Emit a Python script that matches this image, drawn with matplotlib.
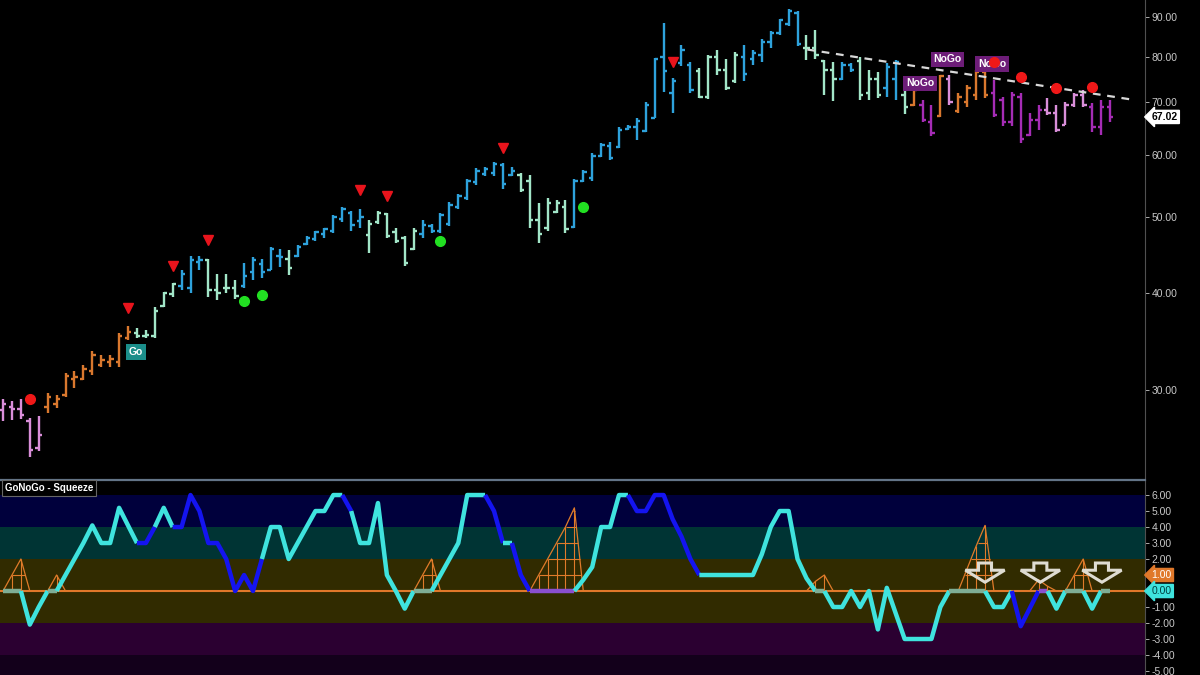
import numpy as np
import matplotlib.pyplot as plt
import matplotlib.transforms as mtransforms
from matplotlib.patches import Polygon

plt.rcParams['font.family'] = ['Liberation Sans', 'DejaVu Sans']

# weekly OHLC bars
opens = [
    28.3, 28.6, 28.4, 27.4, 25.3, 28.6, 28.8, 29.6, 31.0, 31.0,
    31.8, 32.3, 32.6, 32.6, 35.0, 35.5, 35.2, 35.2, 38.5, 39.8,
    40.8, 40.5, 43.8, 44.0, 40.3, 40.5, 40.5, 40.8, 42.5, 43.5,
    42.7, 44.5, 44.2, 44.6, 46.2, 46.8, 47.5, 48.0, 49.6, 50.6,
    49.4, 47.4, 49.2, 50.4, 47.8, 47.0, 45.5, 47.5, 48.6, 47.9,
    49.0, 51.5, 52.8, 55.4, 56.6, 56.8, 58.2, 56.5, 56.5, 55.5,
    49.5, 48.3, 50.7, 51.5, 48.5, 55.5, 56.0, 59.7, 61.5, 61.3,
    64.6, 65.0, 64.3, 66.9, 80.0, 72.0, 78.5, 78.0, 76.6, 71.0,
    80.0, 77.0, 74.5, 80.0, 79.5, 80.5, 83.5, 85.8, 88.0, 91.0,
    82.0, 82.0, 79.0, 77.0, 75.0, 78.0, 79.0, 72.0, 75.0, 73.0,
    75.0, 71.5, 69.4, 69.5, 66.0, 67.2, 75.0, 68.2, 70.0, 71.5,
    76.5, 72.0, 70.5, 66.0, 71.0, 63.5, 66.5, 68.5, 67.8, 65.5,
    69.5, 71.4, 69.0, 65.0, 69.0,
]
highs = [
    29.3, 29.1, 29.3, 27.7, 27.8, 29.8, 29.6, 31.6, 31.8, 32.3,
    33.7, 33.3, 33.3, 35.5, 36.3, 36.0, 35.8, 38.3, 40.1, 41.1,
    42.8, 44.6, 44.6, 44.2, 42.3, 42.3, 41.5, 43.6, 44.4, 44.2,
    45.7, 45.5, 45.3, 46.0, 47.3, 48.0, 48.4, 50.2, 51.4, 50.9,
    51.2, 49.5, 50.9, 50.5, 48.3, 47.3, 48.3, 49.5, 49.0, 50.5,
    52.2, 53.5, 55.9, 57.6, 57.8, 58.7, 58.5, 57.8, 56.8, 56.5,
    52.0, 52.8, 52.5, 52.5, 55.9, 57.3, 60.3, 62.1, 62.3, 65.0,
    65.4, 66.8, 70.0, 79.7, 88.2, 75.2, 82.8, 78.7, 77.4, 80.4,
    81.5, 79.5, 81.0, 82.8, 81.5, 84.2, 86.3, 89.5, 92.0, 91.6,
    85.2, 86.5, 79.2, 78.7, 78.7, 78.5, 80.0, 76.9, 76.5, 78.5,
    79.2, 72.5, 73.6, 70.4, 69.4, 75.8, 75.8, 71.8, 73.6, 76.9,
    77.6, 74.7, 71.0, 72.1, 71.8, 67.8, 69.4, 70.8, 69.4, 70.0,
    71.8, 72.5, 69.8, 70.4, 70.4,
]
lows = [
    27.4, 27.5, 27.6, 24.7, 25.1, 28.1, 28.5, 29.4, 30.2, 30.9,
    31.4, 32.1, 32.1, 32.1, 34.8, 35.0, 35.0, 35.0, 38.3, 39.5,
    40.3, 39.9, 42.7, 39.5, 39.1, 39.9, 39.3, 40.6, 41.5, 41.8,
    42.7, 43.1, 42.1, 44.4, 46.0, 46.6, 47.0, 47.7, 49.2, 48.0,
    48.3, 44.9, 49.0, 47.0, 46.3, 43.3, 45.3, 47.0, 47.6, 47.7,
    48.7, 51.2, 52.5, 54.8, 56.3, 56.3, 54.3, 56.3, 53.7, 48.3,
    46.3, 48.0, 50.5, 47.6, 48.4, 55.3, 55.6, 59.5, 59.0, 61.1,
    64.5, 62.6, 64.1, 66.8, 72.1, 67.8, 77.8, 71.8, 70.8, 70.6,
    75.8, 72.5, 74.0, 74.4, 78.0, 78.8, 82.0, 85.2, 87.5, 82.5,
    79.2, 79.4, 71.4, 70.2, 74.7, 76.5, 70.4, 70.4, 70.8, 71.0,
    70.4, 67.6, 69.2, 66.0, 63.3, 67.0, 69.4, 67.8, 69.0, 70.4,
    70.8, 67.0, 65.2, 65.2, 62.0, 63.3, 64.5, 67.4, 64.1, 65.4,
    69.0, 69.0, 64.1, 63.5, 66.0,
]
closes = [
    28.8, 28.4, 27.9, 25.2, 26.3, 29.4, 29.3, 31.3, 31.2, 32.0,
    33.3, 32.8, 32.9, 35.2, 35.6, 35.2, 35.3, 37.9, 39.9, 41.0,
    42.3, 44.0, 44.0, 40.3, 40.0, 40.5, 39.6, 42.0, 44.0, 42.5,
    45.4, 44.4, 43.0, 45.8, 47.0, 47.8, 48.2, 49.9, 51.2, 48.8,
    50.0, 49.0, 50.6, 47.2, 46.6, 43.6, 48.0, 48.8, 48.0, 50.2,
    51.8, 53.2, 55.6, 57.2, 57.5, 58.4, 55.0, 57.2, 54.0, 49.5,
    47.5, 52.0, 52.0, 48.2, 55.5, 57.0, 59.8, 61.8, 59.4, 64.5,
    65.1, 66.3, 69.5, 79.5, 76.7, 74.5, 81.5, 72.5, 71.0, 80.0,
    77.0, 73.0, 80.5, 76.0, 80.8, 83.5, 85.8, 89.0, 91.5, 83.0,
    82.0, 80.5, 77.0, 75.0, 78.0, 77.0, 71.5, 75.0, 71.5, 77.5,
    78.8, 69.0, 72.5, 66.4, 64.0, 75.5, 70.0, 71.0, 73.0, 76.5,
    71.5, 67.5, 66.0, 71.5, 62.8, 66.5, 68.5, 67.8, 64.5, 69.5,
    71.4, 69.5, 65.0, 69.0, 67.02,
]

# GoNoGo trend regime of each bar: p weak NoGo, o neutral, m weak Go, b strong Go, P strong NoGo
regime_runs = [('p', 5), ('o', 10), ('m', 5), ('b', 3), ('m', 4), ('b', 5), ('m', 1), ('b', 8),
               ('m', 6), ('b', 11), ('m', 6), ('b', 14), ('m', 5), ('b', 7), ('m', 4), ('b', 2),
               ('m', 3), ('b', 2), ('m', 1), ('o', 1), ('P', 2), ('o', 1), ('p', 1), ('o', 4),
               ('P', 6), ('p', 5), ('P', 3)]
regime_colors = {'p': '#d98ed9', 'o': '#d9782e', 'm': '#a2e6c8', 'b': '#2ea2dc', 'P': '#a52cb5'}

# GoNoGo oscillator, one value per bar
oscillator = [
    0, 0, 0, -2.1, -1, 0, 0, 1, 2, 3,
    4.1, 3, 3, 5.2, 4.1, 3, 3, 4, 5.2, 4,
    4, 6, 5, 3, 3, 2, 0, 1, 0, 2,
    4, 4, 2, 3, 4, 5, 5, 6, 6, 5,
    3, 3, 5.5, 1, 0, -1.1, 0, 0, 0, 1,
    2, 3, 6, 6, 6, 5, 3, 3, 1, 0,
    0, 0, 0, 0, 0, 0.7, 1.5, 4, 4, 6,
    6, 5, 5, 6, 6, 4.5, 3.4, 2, 1, 1,
    1, 1, 1, 1, 1, 2.3, 4, 5, 5, 2,
    0.8, 0, 0, -1, -1, 0, -1, 0, -2.4, 0.2,
    -1.4, -3, -3, -3, -3, -1, 0, 0, 0, 0,
    0, -1, -1, 0, -2.2, -1.1, 0, 0, -1.1, 0,
    0, 0, -1.1, 0, 0,
]
# colour of each oscillator segment: c go, b fading go, g squeeze at zero, v nogo at zero
osc_runs = [('g', 2), ('c', 3), ('g', 1), ('c', 9), ('b', 2), ('c', 2), ('b', 10), ('c', 9),
            ('b', 1), ('c', 7), ('g', 2), ('c', 6), ('b', 2), ('c', 1), ('b', 2), ('v', 5),
            ('c', 6), ('b', 8), ('c', 13), ('g', 1), ('c', 14), ('g', 4), ('c', 3), ('b', 3),
            ('v', 1), ('c', 2), ('g', 2), ('c', 2), ('g', 1)]
osc_colors = {'c': '#3fe3de', 'b': '#1414f0', 'g': '#7fae95', 'v': '#8a4fd0'}

# squeeze grid events: first bar, squeeze values
squeeze_events = [
    (0, [0, 1, 2, 0]),
    (5, [0, 1, 0]),
    (46, [0, 1, 2, 0]),
    (59, [0, 1, 2, 3, 4, 5.2, 0]),
    (90, [0, 0.6, 1, 0]),
    (107, [0, 1.4, 2.8, 4.1, 0]),
    (115, [0, 0.7, 0.3, 0]),
    (119, [0, 1, 2, 0]),
]

# signals: (bar, price)
countertrend_tops = [(14, 38.2), (19, 43.3), (23, 46.7), (40, 54.0), (43, 53.1), (56, 61.1), (75, 78.7)]
go_trend_dots = [(27, 39.0), (29, 39.7), (49, 46.6), (65, 51.4)]
nogo_trend_dots = [(3, 29.3), (111, 78.7), (114, 75.4), (118, 72.9), (122, 73.2)]
go_labels = [(14.9, 33.6)]
nogo_labels = [(102.7, 74.0), (105.8, 79.4), (110.8, 78.3)]
trend_line = [(90.1, 81.7), (126.2, 70.6)]
squeeze_arrows = [110.0, 116.2, 123.1]

price_ticks = [30, 40, 50, 60, 70, 80, 90]
osc_ticks = [6, 5, 4, 3, 2, -1, -2, -3, -4, -5]
last_price = 67.02
osc_bands = [(6, 9, '#000000'), (4, 6, '#00003c'), (2, 4, '#003434'),
             (-2, 2, '#312b00'), (-4, -2, '#2b0031'), (-7, -4, '#13001b')]

fig = plt.figure(figsize=(12, 6.75), dpi=100, facecolor='black')
ax = fig.add_axes([0, 0.2919, 0.954, 0.7081])
ax2 = fig.add_axes([0, 0, 0.954, 0.2889])
xlim = (-0.34, 127.9)

# ---- price panel
n = len(closes)
x = np.arange(n)
bar_cols = [regime_colors[c] for c, k in regime_runs for _ in range(k)]
ax.vlines(x, lows, highs, colors=bar_cols, lw=1.7)
ax.hlines(opens, x - 0.38, x, colors=bar_cols, lw=1.7)
ax.hlines(closes, x, x + 0.38, colors=bar_cols, lw=1.7)

(tx0, ty0), (tx1, ty1) = trend_line
ax.plot([tx0, tx1], [ty0, ty1], color='#d8d8d8', lw=1.6, ls=(0, (3.5, 3)), zorder=3)

ax.plot(*zip(*countertrend_tops), 'v', color='#e8141c', ms=6.5, ls='none', zorder=4)
ax.plot(*zip(*go_trend_dots), 'o', color='#22e022', ms=7, ls='none', zorder=4)
for bx, by in go_labels:
    ax.text(bx, by, 'Go', ha='center', va='center', color='white', fontsize=7.5, fontweight='bold',
            bbox=dict(boxstyle='square,pad=0.3', fc='#1b8e8a', ec='none'), zorder=5)
for bx, by in nogo_labels:
    ax.text(bx, by, 'NoGo', ha='center', va='center', color='white', fontsize=7.5, fontweight='bold',
            bbox=dict(boxstyle='square,pad=0.25', fc='#6d1d78', ec='none'), zorder=5)
ax.plot(*zip(*nogo_trend_dots), 'o', color='#f01818', ms=7, ls='none', zorder=6)

ax.set_yscale('log')
ax.set_ylim(23.2, 94.5)
ax.set_xlim(*xlim)
ax.set_facecolor('black')
ax.set_yticks(price_ticks)
ax.set_yticklabels([f'{v:.2f}' for v in price_ticks])
ax.yaxis.set_minor_locator(plt.NullLocator())
ax.yaxis.tick_right()
ax.tick_params(axis='y', colors='#c8c8c8', labelsize=7.5, length=3, width=0.6, pad=2)
ax.set_xticks([])
for side in ['top', 'left', 'bottom']:
    ax.spines[side].set_visible(False)
ax.spines['right'].set_color('#505050')

blend = mtransforms.blended_transform_factory(ax.transAxes, ax.transData)
ax.text(1.006, last_price, f'{last_price:.2f}', transform=blend, ha='left', va='center',
        fontsize=7.5, fontweight='bold', color='black',
        bbox=dict(boxstyle='larrow,pad=0.15', fc='white', ec='white'), clip_on=False)

# ---- oscillator panel
for lo, hi, c in osc_bands:
    ax2.axhspan(lo, hi, color=c, zorder=0, lw=0)
ax2.axhline(0, color='#e0782a', lw=1.5, zorder=1)

sq_col = '#e07b2a'
for start, vals in squeeze_events:
    xs = start + np.arange(len(vals))
    vals = np.array(vals, dtype=float)
    ax2.plot(xs, vals, color=sq_col, lw=0.9, zorder=2)
    ax2.vlines(xs, 0, vals, color=sq_col, lw=0.8, zorder=2)
    fine_x = np.linspace(xs[0], xs[-1], 501)
    fine_v = np.interp(fine_x, xs, vals)
    for k in range(1, int(vals.max()) + 1):
        above = fine_x[fine_v >= k - 1e-6]
        if above.size:
            ax2.hlines(k, above.min(), above.max(), color=sq_col, lw=0.8, zorder=2)

osc = np.array(oscillator, dtype=float)
pos = 0
for code, k in osc_runs:
    ax2.plot(x[pos:pos + k + 1], osc[pos:pos + k + 1], color=osc_colors[code], lw=3.2,
             solid_capstyle='butt', zorder=3)
    pos += k

for c in squeeze_arrows:
    pts = [(c - 0.73, 1.75), (c + 0.73, 1.75), (c + 0.73, 1.3), (c + 2.2, 1.3),
           (c, 0.55), (c - 2.2, 1.3), (c - 0.73, 1.3)]
    ax2.add_patch(Polygon(pts, closed=True, fill=False, ec='#dedcd2', lw=2.2, zorder=4))

ax2.set_xlim(*xlim)
ax2.set_ylim(-5.25, 6.94)
ax2.set_facecolor('black')
ax2.set_yticks(osc_ticks)
ax2.set_yticklabels([f'{v:.2f}' for v in osc_ticks])
ax2.yaxis.tick_right()
ax2.tick_params(axis='y', colors='#c8c8c8', labelsize=7.5, length=3, width=0.6, pad=2)
ax2.set_xticks([])
for side in ['left', 'bottom']:
    ax2.spines[side].set_visible(False)
ax2.spines['right'].set_color('#505050')
ax2.spines['top'].set_color('#637487')
ax2.spines['top'].set_linewidth(1.6)

blend2 = mtransforms.blended_transform_factory(ax2.transAxes, ax2.transData)
ax2.text(1.006, 1.0, '1.00', transform=blend2, ha='left', va='center', fontsize=7.5,
         color='white', bbox=dict(boxstyle='larrow,pad=0.15', fc='#e0782a', ec='#e0782a'), clip_on=False)
ax2.text(1.006, 0.0, '0.00', transform=blend2, ha='left', va='center', fontsize=7.5,
         color='#004040', bbox=dict(boxstyle='larrow,pad=0.15', fc='#3fe3de', ec='#3fe3de'), clip_on=False)

ax2.text(0.004, 0.985, 'GoNoGo - Squeeze', transform=ax2.transAxes, ha='left', va='top',
         fontsize=7, fontweight='bold', color='white',
         bbox=dict(boxstyle='square,pad=0.3', fc='black', ec='#666666', lw=0.8), zorder=6)

fig.savefig('out.png', dpi=100, facecolor='black')
